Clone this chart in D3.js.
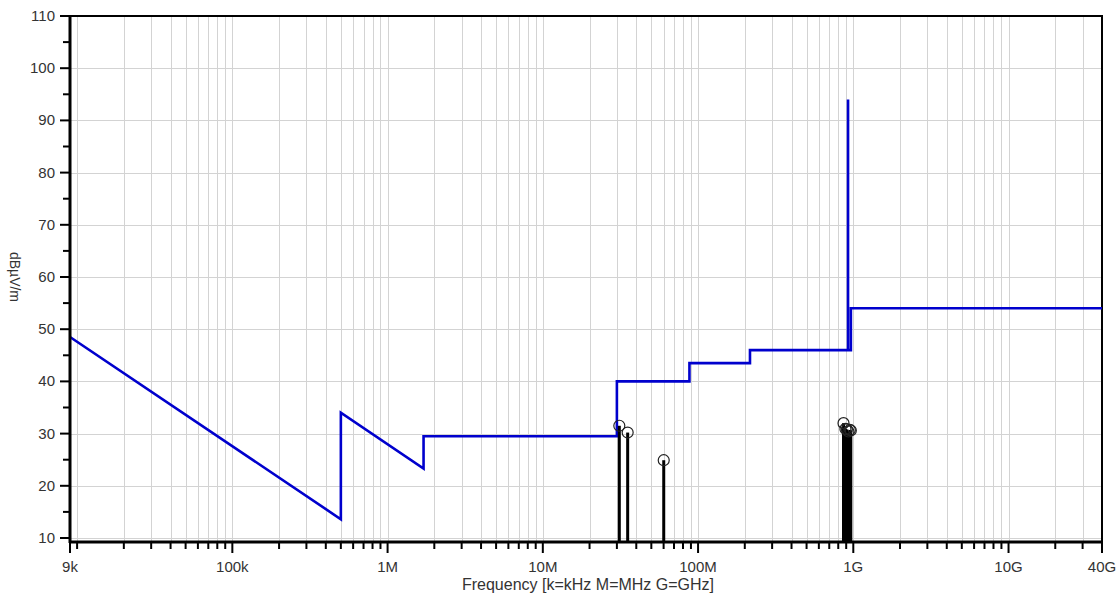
<!DOCTYPE html>
<html>
<head>
<meta charset="utf-8">
<script src="https://cdn.jsdelivr.net/npm/d3@7"></script>
<style>
  body { margin: 0; background: #fff; }
  svg text { font-family: "Liberation Sans", Arial, sans-serif; fill: #333; }
</style>
</head>
<body>
<svg id="chart" width="1119" height="596"></svg>
<script>
// limit line (blue), frequency in Hz / level in dBuV/m
const limitFreq  = [9e3, 500e3, 500e3, 1.705e6, 1.705e6, 30e6, 30e6, 88e6, 88e6, 216e6, 216e6, 925e6, 925e6, 925e6, 965e6, 965e6, 40e9]
const limitLevel = [48.5, 13.6, 34.0, 23.3, 29.5, 29.5, 40.0, 40.0, 43.5, 43.5, 46.0, 46.0, 94.0, 46.0, 46.0, 54.0, 54.0]

// measured peaks (black stems)
const peakFreq  = [31.1e6, 35.2e6, 60.1e6, 865e6, 890e6, 909e6, 930e6, 950e6, 964e6]
const peakLevel = [31.5, 30.2, 24.9, 32.0, 30.9, 30.8, 30.4, 30.7, 30.6]

const yTicks = [10, 20, 30, 40, 50, 60, 70, 80, 90, 100, 110]
const xLabelFreq = [9e3, 1e5, 1e6, 1e7, 1e8, 1e9, 1e10, 4e10]
const xLabelText = ["9k", "100k", "1M", "10M", "100M", "1G", "10G", "40G"]

const pLeft = 70, pRight = 1102, pTop = 16, pBottom = 542

const svg = d3.select("#chart")

const x = d3.scaleLog().domain([9e3, 4e10]).range([pLeft, pRight])
const y = d3.scaleLinear().domain([10, 110]).range([538, 16])

// every 1..9 x decade inside the domain
let xMinor = []
for (let e = 3; e <= 10; e++) {
    for (let m = 1; m <= 9; m++) {
        let f = m * Math.pow(10, e)
        if (f > 9e3 && f < 4e10) xMinor.push(f)
    }
}
const isMajor = f => xLabelFreq.includes(f)

// grid
const grid = svg.append("g").attr("stroke", "#d3d3d3").attr("stroke-width", 1)
grid.selectAll(".vg").data(xMinor).enter().append("line")
    .attr("x1", d => Math.round(x(d)) + 0.5).attr("x2", d => Math.round(x(d)) + 0.5)
    .attr("y1", pTop).attr("y2", pBottom)
grid.selectAll(".hg").data(yTicks.filter(d => d < 110)).enter().append("line")
    .attr("x1", pLeft).attr("x2", pRight)
    .attr("y1", d => Math.round(y(d)) + 0.5).attr("y2", d => Math.round(y(d)) + 0.5)

// top and right border
svg.append("path")
    .attr("d", `M${pLeft},${pTop}H${pRight}V${pBottom}`)
    .attr("fill", "none").attr("stroke", "#000").attr("stroke-width", 2)

// limit line
const line = d3.line().x((d, i) => x(limitFreq[i])).y(d => y(d))
svg.append("path")
    .datum(limitLevel)
    .attr("d", line)
    .attr("fill", "none")
    .attr("stroke", "#0000cd")
    .attr("stroke-width", 2.6)
    .attr("stroke-linejoin", "miter")

// peaks
const peaks = peakFreq.map((f, i) => ({ f, v: peakLevel[i] }))
svg.append("g").selectAll("line").data(peaks).enter().append("line")
    .attr("x1", d => x(d.f)).attr("x2", d => x(d.f))
    .attr("y1", pBottom).attr("y2", d => y(d.v))
    .attr("stroke", "#000").attr("stroke-width", 3)
svg.append("g").selectAll("circle").data(peaks).enter().append("circle")
    .attr("cx", d => x(d.f)).attr("cy", d => y(d.v)).attr("r", 5.5)
    .attr("fill", "none").attr("stroke", "#222").attr("stroke-width", 1.2)

// y axis
const yMinor = d3.range(15, 110, 10)
svg.append("g").attr("stroke", "#000").attr("stroke-width", 2)
    .selectAll("line").data(yTicks.concat(yMinor)).enter().append("line")
    .attr("x1", d => d % 10 === 0 ? pLeft - 10 : pLeft - 7).attr("x2", pLeft)
    .attr("y1", d => y(d)).attr("y2", d => y(d))
svg.append("g").selectAll("text").data(yTicks).enter().append("text")
    .attr("x", 55).attr("y", d => y(d) + 5)
    .attr("text-anchor", "end")
    .style("font-size", "15px")
    .text(d => d)

// x axis
const xAll = [9e3].concat(xMinor, [4e10])
svg.append("g").attr("stroke", "#000").attr("stroke-width", 2)
    .selectAll("line").data(xAll).enter().append("line")
    .attr("x1", d => x(d)).attr("x2", d => x(d))
    .attr("y1", pBottom).attr("y2", d => isMajor(d) ? pBottom + 11 : pBottom + 7)
svg.append("g").selectAll("text").data(xLabelFreq).enter().append("text")
    .attr("x", d => x(d)).attr("y", 572)
    .attr("text-anchor", "middle")
    .style("font-size", "15px")
    .text((d, i) => xLabelText[i])

// axis lines
svg.append("line").attr("x1", pLeft).attr("x2", pLeft).attr("y1", pTop - 1).attr("y2", pBottom + 1)
    .attr("stroke", "#000").attr("stroke-width", 3)
svg.append("line").attr("x1", pLeft - 1).attr("x2", pRight + 1).attr("y1", pBottom).attr("y2", pBottom)
    .attr("stroke", "#000").attr("stroke-width", 3)

// titles
svg.append("text")
    .attr("x", 588).attr("y", 590)
    .attr("text-anchor", "middle")
    .style("font-size", "16px")
    .text("Frequency [k=kHz M=MHz G=GHz]")
svg.append("text")
    .attr("transform", "translate(10,277) rotate(90)")
    .attr("text-anchor", "middle")
    .style("font-size", "14px")
    .text("dBµV/m")
</script>
</body>
</html>
